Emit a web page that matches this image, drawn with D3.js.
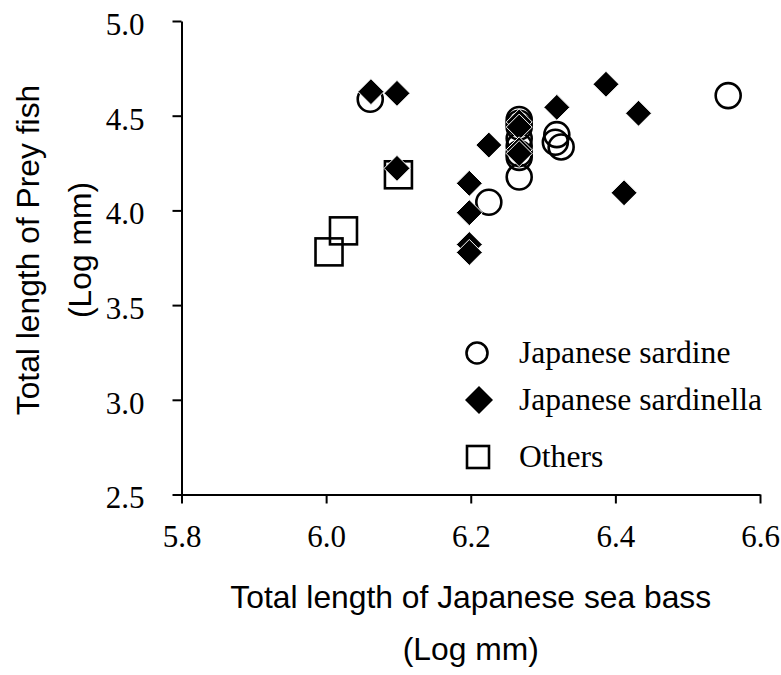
<!DOCTYPE html>
<html>
<head>
<meta charset="utf-8">
<script src="https://cdnjs.cloudflare.com/ajax/libs/d3/7.8.5/d3.min.js"></script>
<style>
  body { margin: 0; background: #fff; }
  .tick text { font-family: "Liberation Serif", "Times New Roman", serif; font-size: 31px; fill: #000; }
  .axisTitle { font-family: "Liberation Sans", Arial, sans-serif; font-size: 31.8px; fill: #000; }
  .legendText { font-family: "Liberation Serif", "Times New Roman", serif; font-size: 31.6px; fill: #000; }
</style>
</head>
<body>
<div id="chart"></div>
<script>
//------------------------------------------------------------------------ Data
// Japanese sardine (open circles)
var sardineX = [6.556, 6.061, 6.225, 6.267, 6.267, 6.267, 6.267, 6.267, 6.267, 6.267, 6.267, 6.319, 6.317, 6.325];
var sardineY = [4.606, 4.587, 4.043, 4.48, 4.46, 4.44, 4.38, 4.34, 4.30, 4.28, 4.176, 4.40, 4.36, 4.335];

// Japanese sardinella (filled diamonds)
var sardinellaX = [6.062, 6.098, 6.098, 6.225, 6.198, 6.198, 6.198, 6.198, 6.267, 6.267, 6.267, 6.267, 6.319, 6.387, 6.432, 6.412];
var sardinellaY = [4.627, 4.618, 4.222, 4.345, 4.143, 3.988, 3.82, 3.778, 4.467, 4.44, 4.32, 4.30, 4.544, 4.666, 4.513, 4.093];

// Others (open squares)
var othersX = [6.004, 6.024, 6.100];
var othersY = [3.781, 3.892, 4.188];

var xTicks = [5.8, 6.0, 6.2, 6.4, 6.6];
var yTicks = [2.5, 3.0, 3.5, 4.0, 4.5, 5.0];
var legendLabels = ["Japanese sardine", "Japanese sardinella", "Others"];

//------------------------------------------------------------------------ Layout
var W = 781, H = 675;
var plot = {left: 181.5, right: 760, top: 21, bottom: 494.5};

var svg = d3.select("#chart").append("svg")
  .attr("width", W)
  .attr("height", H);

var x = d3.scaleLinear().domain([5.8, 6.6]).range([plot.left, plot.right]);
var y = d3.scaleLinear().domain([2.5, 5.0]).range([plot.bottom, plot.top]);

//------------------------------------------------------------------------ Axes
var xAxis = svg.append("g")
  .attr("transform", "translate(0," + plot.bottom + ")")
  .call(d3.axisBottom(x).tickValues(xTicks).tickFormat(d3.format(".1f"))
    .tickSize(9).tickSizeOuter(0).tickPadding(21));

var yAxis = svg.append("g")
  .attr("transform", "translate(" + plot.left + ",0)")
  .call(d3.axisLeft(y).tickValues(yTicks).tickFormat(d3.format(".1f"))
    .tickSize(9).tickSizeOuter(0).tickPadding(28));

svg.selectAll(".domain, .tick line").attr("stroke", "#000").attr("stroke-width", 2);
yAxis.selectAll(".tick text").attr("dy", "0.43em");

//------------------------------------------------------------------------ Axis titles
svg.append("text").attr("class", "axisTitle")
  .attr("x", (plot.left + plot.right) / 2).attr("y", 608)
  .attr("text-anchor", "middle")
  .text("Total length of Japanese sea bass");
svg.append("text").attr("class", "axisTitle")
  .attr("x", (plot.left + plot.right) / 2).attr("y", 660)
  .attr("text-anchor", "middle")
  .text("(Log mm)");

var yTitle = ["Total length of Prey fish", "(Log mm)"];
yTitle.forEach(function(t, i){
  svg.append("text").attr("class", "axisTitle")
    .attr("transform", "translate(" + (39 + 52 * i) + ",250) rotate(-90)")
    .attr("text-anchor", "middle")
    .text(t);
});

//------------------------------------------------------------------------ Points
var diamond = function(s){ return "M0," + (-s) + "L" + s + ",0L0," + s + "L" + (-s) + ",0Z"; };

svg.append("g").selectAll("rect")
  .data(othersX.map(function(d, i){ return [d, othersY[i]]; }))
  .join("rect")
  .attr("x", function(d){ return x(d[0]) - 13.5; })
  .attr("y", function(d){ return y(d[1]) - 13.5; })
  .attr("width", 27).attr("height", 27)
  .attr("fill", "none").attr("stroke", "#000").attr("stroke-width", 2.6);

svg.append("g").selectAll("circle")
  .data(sardineX.map(function(d, i){ return [d, sardineY[i]]; }))
  .join("circle")
  .attr("cx", function(d){ return x(d[0]); })
  .attr("cy", function(d){ return y(d[1]); })
  .attr("r", 12.5)
  .attr("fill", "none").attr("stroke", "#000").attr("stroke-width", 2.6);

svg.append("g").selectAll("path")
  .data(sardinellaX.map(function(d, i){ return [d, sardinellaY[i]]; }))
  .join("path")
  .attr("transform", function(d){ return "translate(" + x(d[0]) + "," + y(d[1]) + ")"; })
  .attr("d", diamond(13))
  .attr("fill", "#000").attr("stroke", "#fff").attr("stroke-width", 1);

//------------------------------------------------------------------------ Legend
var leg = svg.append("g");
leg.append("circle").attr("cx", 477).attr("cy", 353).attr("r", 10.5)
  .attr("fill", "none").attr("stroke", "#000").attr("stroke-width", 2.6);
leg.append("path").attr("transform", "translate(479,400)").attr("d", diamond(14))
  .attr("fill", "#000");
leg.append("rect").attr("x", 467).attr("y", 446).attr("width", 22).attr("height", 22)
  .attr("fill", "none").attr("stroke", "#000").attr("stroke-width", 2.6);

legendLabels.forEach(function(t, i){
  leg.append("text").attr("class", "legendText")
    .attr("x", 519).attr("y", [363, 410, 467][i])
    .text(t);
});
</script>
</body>
</html>
